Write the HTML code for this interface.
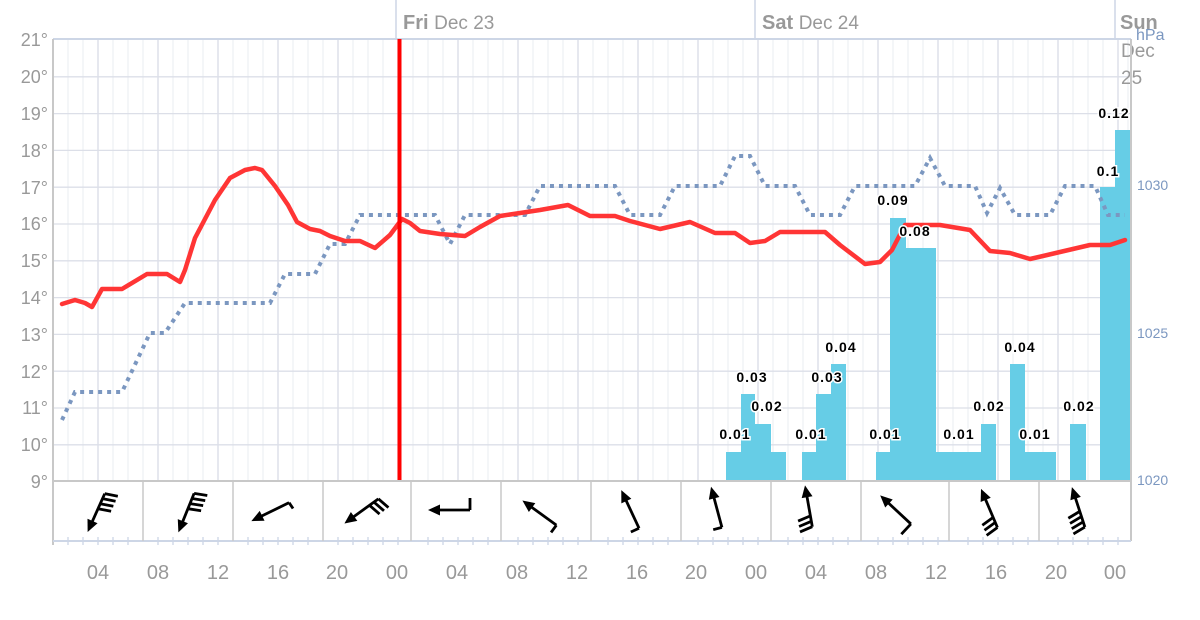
<!DOCTYPE html>
<html><head><meta charset="utf-8"><style>
html,body{margin:0;padding:0;background:#fff;}
svg{display:block;font-family:"Liberation Sans",Arial,sans-serif;}
</style></head><body>
<svg width="1200" height="620" viewBox="0 0 1200 620" xmlns="http://www.w3.org/2000/svg">
<defs>
<g id="arr"><line x1="0" y1="-19" x2="0" y2="16" stroke="#000" stroke-width="2.8"/><polygon points="0,23 -5.5,11 5.5,11" fill="#000"/></g>
<g id="b3" stroke="#000" stroke-width="2.8"><line x1="0" y1="-19" x2="13" y2="-22"/><line x1="0" y1="-13.5" x2="13" y2="-16.5"/><line x1="0" y1="-8" x2="13" y2="-11"/></g>
<g id="b4"><use href="#b3"/><line x1="0" y1="-2.5" x2="13" y2="-5.5" stroke="#000" stroke-width="2.8"/></g>
</defs>
<g stroke="#eaecf2" stroke-width="1">
<line x1="68" y1="40" x2="68" y2="481"/><line x1="83" y1="40" x2="83" y2="481"/><line x1="113" y1="40" x2="113" y2="481"/><line x1="128" y1="40" x2="128" y2="481"/><line x1="143" y1="40" x2="143" y2="481"/><line x1="173" y1="40" x2="173" y2="481"/><line x1="188" y1="40" x2="188" y2="481"/><line x1="203" y1="40" x2="203" y2="481"/><line x1="233" y1="40" x2="233" y2="481"/><line x1="248" y1="40" x2="248" y2="481"/><line x1="263" y1="40" x2="263" y2="481"/><line x1="293" y1="40" x2="293" y2="481"/><line x1="308" y1="40" x2="308" y2="481"/><line x1="323" y1="40" x2="323" y2="481"/><line x1="353" y1="40" x2="353" y2="481"/><line x1="368" y1="40" x2="368" y2="481"/><line x1="383" y1="40" x2="383" y2="481"/><line x1="413" y1="40" x2="413" y2="481"/><line x1="428" y1="40" x2="428" y2="481"/><line x1="443" y1="40" x2="443" y2="481"/><line x1="473" y1="40" x2="473" y2="481"/><line x1="488" y1="40" x2="488" y2="481"/><line x1="503" y1="40" x2="503" y2="481"/><line x1="533" y1="40" x2="533" y2="481"/><line x1="548" y1="40" x2="548" y2="481"/><line x1="563" y1="40" x2="563" y2="481"/><line x1="593" y1="40" x2="593" y2="481"/><line x1="608" y1="40" x2="608" y2="481"/><line x1="623" y1="40" x2="623" y2="481"/><line x1="653" y1="40" x2="653" y2="481"/><line x1="668" y1="40" x2="668" y2="481"/><line x1="683" y1="40" x2="683" y2="481"/><line x1="713" y1="40" x2="713" y2="481"/><line x1="728" y1="40" x2="728" y2="481"/><line x1="743" y1="40" x2="743" y2="481"/><line x1="773" y1="40" x2="773" y2="481"/><line x1="788" y1="40" x2="788" y2="481"/><line x1="803" y1="40" x2="803" y2="481"/><line x1="833" y1="40" x2="833" y2="481"/><line x1="848" y1="40" x2="848" y2="481"/><line x1="863" y1="40" x2="863" y2="481"/><line x1="893" y1="40" x2="893" y2="481"/><line x1="908" y1="40" x2="908" y2="481"/><line x1="923" y1="40" x2="923" y2="481"/><line x1="953" y1="40" x2="953" y2="481"/><line x1="968" y1="40" x2="968" y2="481"/><line x1="983" y1="40" x2="983" y2="481"/><line x1="1013" y1="40" x2="1013" y2="481"/><line x1="1028" y1="40" x2="1028" y2="481"/><line x1="1043" y1="40" x2="1043" y2="481"/><line x1="1073" y1="40" x2="1073" y2="481"/><line x1="1088" y1="40" x2="1088" y2="481"/><line x1="1103" y1="40" x2="1103" y2="481"/><line x1="1128" y1="40" x2="1128" y2="481"/>
</g>
<g stroke="#d9dce6" stroke-width="1.3">
<line x1="98" y1="40" x2="98" y2="481"/><line x1="158" y1="40" x2="158" y2="481"/><line x1="218" y1="40" x2="218" y2="481"/><line x1="278" y1="40" x2="278" y2="481"/><line x1="338" y1="40" x2="338" y2="481"/><line x1="398" y1="40" x2="398" y2="481"/><line x1="458" y1="40" x2="458" y2="481"/><line x1="518" y1="40" x2="518" y2="481"/><line x1="578" y1="40" x2="578" y2="481"/><line x1="638" y1="40" x2="638" y2="481"/><line x1="698" y1="40" x2="698" y2="481"/><line x1="758" y1="40" x2="758" y2="481"/><line x1="818" y1="40" x2="818" y2="481"/><line x1="878" y1="40" x2="878" y2="481"/><line x1="938" y1="40" x2="938" y2="481"/><line x1="998" y1="40" x2="998" y2="481"/><line x1="1058" y1="40" x2="1058" y2="481"/><line x1="1118" y1="40" x2="1118" y2="481"/>
</g>
<g stroke="#dcdfe8" stroke-width="1.3">
<line x1="53" y1="76.8" x2="1131" y2="76.8"/><line x1="53" y1="113.6" x2="1131" y2="113.6"/><line x1="53" y1="150.4" x2="1131" y2="150.4"/><line x1="53" y1="187.2" x2="1131" y2="187.2"/><line x1="53" y1="224" x2="1131" y2="224"/><line x1="53" y1="260.8" x2="1131" y2="260.8"/><line x1="53" y1="297.6" x2="1131" y2="297.6"/><line x1="53" y1="334.4" x2="1131" y2="334.4"/><line x1="53" y1="371.2" x2="1131" y2="371.2"/><line x1="53" y1="408" x2="1131" y2="408"/><line x1="53" y1="444.8" x2="1131" y2="444.8"/>
</g>
<line x1="53" y1="39" x2="1131" y2="39" stroke="#cdd6e6" stroke-width="2"/>
<g stroke="#cdd6e6" stroke-width="1.5"><line x1="396" y1="0" x2="396" y2="39"/><line x1="755" y1="0" x2="755" y2="39"/><line x1="1115" y1="0" x2="1115" y2="39"/></g>
<text x="403" y="29" fill="#999" font-size="20"><tspan font-weight="bold">Fri</tspan> <tspan font-size="19">Dec 23</tspan></text>
<text x="762" y="29" fill="#999" font-size="20"><tspan font-weight="bold">Sat</tspan> <tspan font-size="19">Dec 24</tspan></text>
<text x="1120" y="29" fill="#999" font-size="20" font-weight="bold">Sun</text>
<text x="1121" y="57" fill="#999" font-size="19">Dec</text>
<text x="1121" y="84" fill="#999" font-size="19">25</text>
<text x="1136" y="40" fill="#7b97c0" font-size="16">hPa</text>
<g fill="#66cde6">
<rect x="726" y="452" width="15" height="28"/><rect x="741" y="394" width="14" height="86"/><rect x="755" y="424" width="16" height="56"/><rect x="771" y="452" width="15" height="28"/>
<rect x="802" y="452" width="14" height="28"/><rect x="816" y="394" width="15" height="86"/><rect x="831" y="364" width="15" height="116"/>
<rect x="876" y="452" width="15" height="28"/><rect x="890" y="218" width="16" height="262"/><rect x="906" y="248" width="30" height="232"/>
<rect x="936" y="452" width="45" height="28"/><rect x="981" y="424" width="15" height="56"/>
<rect x="1010" y="364" width="15" height="116"/><rect x="1025" y="452" width="31" height="28"/>
<rect x="1070" y="424" width="16" height="56"/>
<rect x="1100" y="187" width="15" height="293"/><rect x="1115" y="130" width="15" height="350"/>
</g>
<polyline fill="none" stroke="#7b97c0" stroke-width="4" stroke-dasharray="4 5" points="62,420 75,392 122,392 150,333 165,333 185,303 270,303 285,274 315,274 330,244 345,244 360,215 435,215 450,244 465,215 525,215 540,186 615,186 630,215 660,215 675,186 720,186 735,156 750,156 765,186 795,186 810,215 840,215 855,186 915,186 930,158 945,186 975,186 987,213 1000,188 1015,215 1050,215 1065,186 1095,186 1108,215 1125,215"/>
<polyline fill="none" stroke="#ff3535" stroke-width="4.5" stroke-linejoin="round" stroke-linecap="round" points="62,304 75,300 85,303 92,307 102,289 122,289 147,274 167,274 180,282 185,270 195,238 215,200 230,178 245,170 255,168 262,170 275,186 288,205 297,222 310,229 320,231 330,236 345,241 360,241 375,248 390,235 402,219 410,223 420,231 440,234 465,236 480,227 500,216 540,210 568,205 590,216 615,216 630,221 660,229 690,222 715,233 735,233 750,243 765,241 780,232 825,232 840,245 865,264 880,262 892,250 905,225 940,225 970,230 990,251 1010,253 1030,259 1060,252 1090,245 1110,245 1125,240"/>
<line x1="399.5" y1="39" x2="399.5" y2="481" stroke="#f00" stroke-width="4"/>
<g font-size="14" font-weight="bold" fill="#000" stroke="#fff" stroke-width="3" paint-order="stroke" text-anchor="middle" letter-spacing="1">
<text x="735" y="439">0.01</text><text x="752" y="382">0.03</text><text x="767" y="411">0.02</text>
<text x="811" y="439">0.01</text><text x="827" y="382">0.03</text><text x="841" y="352">0.04</text>
<text x="885" y="439">0.01</text><text x="893" y="205">0.09</text><text x="915" y="236">0.08</text>
<text x="959" y="439">0.01</text><text x="989" y="411">0.02</text>
<text x="1020" y="352">0.04</text><text x="1035" y="439">0.01</text>
<text x="1079" y="411">0.02</text><text x="1108" y="176">0.1</text><text x="1114" y="118">0.12</text>
</g>
<line x1="53" y1="39" x2="53" y2="545" stroke="#c8c8c8" stroke-width="2"/>
<line x1="53" y1="481" x2="1131" y2="481" stroke="#c8c8c8" stroke-width="2"/>
<line x1="1131" y1="39" x2="1131" y2="541" stroke="#c8c8c8" stroke-width="2"/>
<line x1="53" y1="541" x2="1131" y2="541" stroke="#cdd6e6" stroke-width="2"/>
<g stroke="#c8c8c8" stroke-width="1.5"><line x1="143" y1="481" x2="143" y2="541"/><line x1="233" y1="481" x2="233" y2="541"/><line x1="323" y1="481" x2="323" y2="541"/><line x1="411" y1="481" x2="411" y2="541"/><line x1="501" y1="481" x2="501" y2="541"/><line x1="591" y1="481" x2="591" y2="541"/><line x1="681" y1="481" x2="681" y2="541"/><line x1="771" y1="481" x2="771" y2="541"/><line x1="861" y1="481" x2="861" y2="541"/><line x1="949" y1="481" x2="949" y2="541"/><line x1="1039" y1="481" x2="1039" y2="541"/></g>
<g stroke="#cdd6e6" stroke-width="1.3">
<line x1="68" y1="537" x2="68" y2="545"/><line x1="83" y1="537" x2="83" y2="545"/><line x1="98" y1="537" x2="98" y2="545"/><line x1="113" y1="537" x2="113" y2="545"/><line x1="128" y1="537" x2="128" y2="545"/><line x1="158" y1="537" x2="158" y2="545"/><line x1="173" y1="537" x2="173" y2="545"/><line x1="188" y1="537" x2="188" y2="545"/><line x1="203" y1="537" x2="203" y2="545"/><line x1="218" y1="537" x2="218" y2="545"/><line x1="248" y1="537" x2="248" y2="545"/><line x1="263" y1="537" x2="263" y2="545"/><line x1="278" y1="537" x2="278" y2="545"/><line x1="293" y1="537" x2="293" y2="545"/><line x1="308" y1="537" x2="308" y2="545"/><line x1="338" y1="537" x2="338" y2="545"/><line x1="353" y1="537" x2="353" y2="545"/><line x1="368" y1="537" x2="368" y2="545"/><line x1="383" y1="537" x2="383" y2="545"/><line x1="398" y1="537" x2="398" y2="545"/><line x1="428" y1="537" x2="428" y2="545"/><line x1="443" y1="537" x2="443" y2="545"/><line x1="458" y1="537" x2="458" y2="545"/><line x1="473" y1="537" x2="473" y2="545"/><line x1="488" y1="537" x2="488" y2="545"/><line x1="518" y1="537" x2="518" y2="545"/><line x1="533" y1="537" x2="533" y2="545"/><line x1="548" y1="537" x2="548" y2="545"/><line x1="563" y1="537" x2="563" y2="545"/><line x1="578" y1="537" x2="578" y2="545"/><line x1="608" y1="537" x2="608" y2="545"/><line x1="623" y1="537" x2="623" y2="545"/><line x1="638" y1="537" x2="638" y2="545"/><line x1="653" y1="537" x2="653" y2="545"/><line x1="668" y1="537" x2="668" y2="545"/><line x1="698" y1="537" x2="698" y2="545"/><line x1="713" y1="537" x2="713" y2="545"/><line x1="728" y1="537" x2="728" y2="545"/><line x1="743" y1="537" x2="743" y2="545"/><line x1="758" y1="537" x2="758" y2="545"/><line x1="788" y1="537" x2="788" y2="545"/><line x1="803" y1="537" x2="803" y2="545"/><line x1="818" y1="537" x2="818" y2="545"/><line x1="833" y1="537" x2="833" y2="545"/><line x1="848" y1="537" x2="848" y2="545"/><line x1="878" y1="537" x2="878" y2="545"/><line x1="893" y1="537" x2="893" y2="545"/><line x1="908" y1="537" x2="908" y2="545"/><line x1="923" y1="537" x2="923" y2="545"/><line x1="938" y1="537" x2="938" y2="545"/><line x1="968" y1="537" x2="968" y2="545"/><line x1="983" y1="537" x2="983" y2="545"/><line x1="998" y1="537" x2="998" y2="545"/><line x1="1013" y1="537" x2="1013" y2="545"/><line x1="1028" y1="537" x2="1028" y2="545"/><line x1="1058" y1="537" x2="1058" y2="545"/><line x1="1073" y1="537" x2="1073" y2="545"/><line x1="1088" y1="537" x2="1088" y2="545"/><line x1="1103" y1="537" x2="1103" y2="545"/><line x1="1118" y1="537" x2="1118" y2="545"/>
</g>
<g transform="translate(97,511) rotate(24)"><use href="#arr"/><use href="#b4"/></g>
<g transform="translate(187,511) rotate(22)"><use href="#arr"/><use href="#b4"/></g>
<g transform="translate(272,511) rotate(64)"><use href="#arr"/><line x1="0" y1="-19" x2="7" y2="-20" stroke="#000" stroke-width="2.8"/></g>
<g transform="translate(363,510) rotate(54)"><use href="#arr"/><use href="#b3"/></g>
<g transform="translate(451,510) rotate(90)"><use href="#arr"/><line x1="0" y1="-19" x2="-12" y2="-19" stroke="#000" stroke-width="2.8"/></g>
<g transform="translate(541,514) rotate(126)"><use href="#arr"/><line x1="0" y1="-19" x2="9" y2="-19" stroke="#000" stroke-width="2.8"/></g>
<g transform="translate(631,511) rotate(155)"><use href="#arr"/><line x1="0" y1="-19" x2="9" y2="-19" stroke="#000" stroke-width="2.8"/></g>
<g transform="translate(717,509) rotate(165)"><use href="#arr"/><line x1="0" y1="-19" x2="9" y2="-19" stroke="#000" stroke-width="2.8"/></g>
<g transform="translate(809,508) rotate(170)"><use href="#arr"/><use href="#b3"/></g>
<g transform="translate(897,511) rotate(133)"><use href="#arr"/><line x1="0" y1="-19" x2="14" y2="-19" stroke="#000" stroke-width="2.8"/></g>
<g transform="translate(990,510) rotate(157)"><use href="#arr"/><use href="#b3"/></g>
<g transform="translate(1079,509) rotate(162)"><use href="#arr"/><use href="#b4"/></g>
<g fill="#999" font-size="18" text-anchor="end">
<text x="48" y="46">21°</text><text x="48" y="83">20°</text><text x="48" y="120">19°</text><text x="48" y="157">18°</text><text x="48" y="194">17°</text><text x="48" y="230">16°</text><text x="48" y="267">15°</text><text x="48" y="304">14°</text><text x="48" y="341">13°</text><text x="48" y="378">12°</text><text x="48" y="414">11°</text><text x="48" y="451">10°</text><text x="48" y="488">9°</text>
</g>
<g fill="#7b97c0" font-size="14"><text x="1137" y="190">1030</text><text x="1137" y="338">1025</text><text x="1137" y="485">1020</text></g>
<g fill="#999" font-size="20" text-anchor="middle">
<text x="98" y="579">04</text><text x="158" y="579">08</text><text x="218" y="579">12</text><text x="278" y="579">16</text><text x="337" y="579">20</text><text x="397" y="579">00</text><text x="457" y="579">04</text><text x="517" y="579">08</text><text x="577" y="579">12</text><text x="637" y="579">16</text><text x="696" y="579">20</text><text x="756" y="579">00</text><text x="816" y="579">04</text><text x="876" y="579">08</text><text x="936" y="579">12</text><text x="996" y="579">16</text><text x="1056" y="579">20</text><text x="1115" y="579">00</text>
</g>
</svg>
</body></html>
